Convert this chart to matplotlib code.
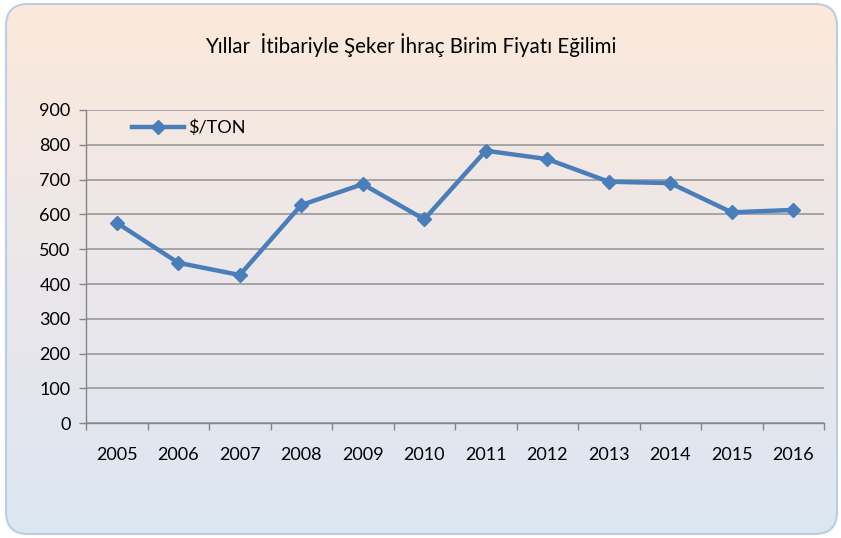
import numpy as np
import matplotlib.pyplot as plt
from matplotlib.patches import FancyBboxPatch
from matplotlib.colors import LinearSegmentedColormap

plt.rcParams['font.family'] = ['Lato', 'DejaVu Sans']

# veriler
years = ['2005', '2006', '2007', '2008', '2009', '2010',
         '2011', '2012', '2013', '2014', '2015', '2016']
prices = [576, 461, 426, 627, 687, 586, 783, 759, 694, 690, 606, 613]
title = 'Yıllar  İtibariyle Şeker İhraç Birim Fiyatı Eğilimi'
series_name = '$/TON'

fig = plt.figure(figsize=(8.41, 5.38), dpi=100)
fig.patch.set_facecolor('white')

# arka plan: yukaridan asagi seftali -> acik mavi gecis
bg = fig.add_axes([0, 0, 1, 1], zorder=-10)
bg.set_xlim(0, 841)
bg.set_ylim(0, 538)
bg.axis('off')
cmap = LinearSegmentedColormap.from_list('bg', ['#dce6f2', '#ebe7ea', '#fce9da'])
grad = np.linspace(0, 1, 256).reshape(-1, 1)
im = bg.imshow(grad, cmap=cmap, extent=[5, 838, 3, 535], origin='lower', aspect='auto')
box = FancyBboxPatch((6, 4), 831, 530, boxstyle='round,pad=0,rounding_size=22',
                     facecolor='none', edgecolor='#b9cde5', linewidth=1.5)
bg.add_patch(box)
im.set_clip_path(box)

ax = fig.add_axes([86/841, 1-423.3/538, (824-86)/841, (423.3-110)/538])
ax.set_facecolor('none')

x = np.arange(len(years))
ax.plot(x, prices, color='#4a7ebb', linewidth=3.2, marker='D', markersize=7.5,
        label=series_name, solid_joinstyle='round')

ax.set_xlim(-0.5, len(years) - 0.5)
ax.set_ylim(0, 900)
ax.set_yticks(np.arange(0, 901, 100))
ax.set_xticks(x)
ax.set_xticklabels(years)
ax.set_xticks(np.arange(-0.5, len(years), 1), minor=True)
ax.tick_params(axis='x', which='major', length=0, pad=17, labelsize=13, colors='#000000')
ax.tick_params(axis='x', which='minor', length=5, color='#868686', width=1)
ax.tick_params(axis='y', length=5, color='#868686', width=1, pad=6, labelsize=13)
ax.grid(axis='y', color='#a0a0a0', linewidth=1.3)
ax.set_axisbelow(True)
for s in ['top', 'right']:
    ax.spines[s].set_visible(False)
for s in ['left', 'bottom']:
    ax.spines[s].set_color('#868686')
    ax.spines[s].set_linewidth(1)

ax.legend(loc='upper left', bbox_to_anchor=(0.04, 1.02), frameon=False, fontsize=13,
          handlelength=2.9, handletextpad=0.2)

fig.text(0.5 * (203 + 618) / 841, 1 - 45/538, title, ha='center', va='center', fontsize=14.8)

fig.savefig('out.png', dpi=100)
